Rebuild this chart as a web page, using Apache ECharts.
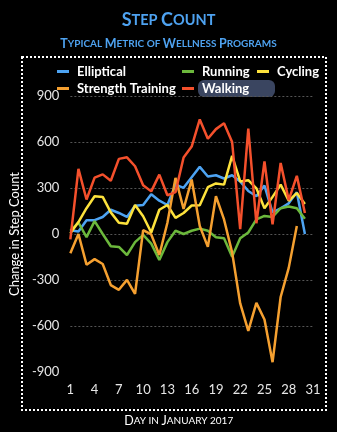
<!DOCTYPE html>
<html>
<head>
<meta charset="utf-8">
<script src="https://cdn.jsdelivr.net/npm/echarts@6/dist/echarts.min.js"></script>
<style>
html,body{margin:0;padding:0;background:#000;}
#c{width:337px;height:432px;}
</style>
</head>
<body>
<div id="c"></div>
<script>
const days = Array.from({length: 31}, (_, i) => String(i + 1));
const yTicks = [-900, -600, -300, 0, 300, 600, 900];
const elliptical = [25, 17, 90, 90, 111, 158, 137, 111, 185, 189, 259, 217, 189, 322, 301, 370, 438, 375, 383, 362, 383, 343, 280, 246, 316, 141, 168, 200, 273, 0];
const running = [20, 75, -20, 84, 0, -80, -84, -137, -53, -6, -63, -169, -53, 21, 0, 21, 35, 21, -21, -28, -148, -28, 10, 95, 118, 111, 168, 179, 168, 99];
const cycling = [5, 78, 168, 246, 242, 141, 73, 67, 189, 116, 10, 158, 189, 105, 137, 186, 187, 305, 330, 322, 509, 343, 351, 298, 168, 242, 322, 217, 267, 196];
const strength = [-126, 0, -200, -164, -196, -333, -364, -299, -390, 25, -3, -137, 73, 366, 163, 355, 52, -84, 246, 95, -120, -453, -632, -449, -558, -836, -411, -221, 52];
const walking = [-35, 425, 225, 368, 389, 347, 490, 500, 442, 318, 278, 387, 253, 273, 499, 570, 747, 621, 684, 722, 600, 32, 688, 70, 474, 63, 463, 221, 379, 137];

const seriesNames = ['Elliptical', 'Running', 'Cycling', 'Strength Training', 'Walking'];
const seriesData = [elliptical, running, cycling, strength, walking];
const colors = ['#4da3f2', '#6cb83c', '#fde23c', '#f5a030', '#f4502c'];

const FONT = 'Lato';
const legendBase = {
  orient: 'vertical',
  icon: 'rect',
  itemWidth: 12,
  itemHeight: 3,
  itemGap: 4,
  padding: 0,
  textStyle: {color: '#fff', fontSize: 13, fontFamily: FONT, fontWeight: 'bold', padding: [0, 0, 0, 3]}
};

const chart = echarts.init(document.getElementById('c'));
chart.setOption({
  backgroundColor: '#000',
  animation: false,
  color: colors,
  title: [{
    text: '{a|S}{b|TEP }{a|C}{b|OUNT}',
    left: 'center', top: 6,
    textStyle: {rich: {
      a: {fontSize: 18, fontWeight: 'bold', color: '#4ea2f0', fontFamily: FONT},
      b: {fontSize: 14.5, fontWeight: 'bold', color: '#4ea2f0', fontFamily: FONT}
    }}
  }, {
    text: '{a|T}{b|YPICAL }{a|M}{b|ETRIC OF }{a|W}{b|ELLNESS }{a|P}{b|ROGRAMS}',
    left: 'center', top: 32,
    textStyle: {rich: {
      a: {fontSize: 12.5, fontWeight: 'bold', color: '#4ea2f0', fontFamily: FONT},
      b: {fontSize: 10, fontWeight: 'bold', color: '#4ea2f0', fontFamily: FONT}
    }}
  }],
  graphic: [{
    type: 'rect', z: 0,
    shape: {x: 22, y: 57, width: 304, height: 353},
    style: {fill: 'none', stroke: '#fff', lineWidth: 2, lineDash: [2, 2]}
  }, {
    type: 'rect', z: 0,
    shape: {x: 198, y: 80, width: 77, height: 17, r: 6},
    style: {fill: '#3a4560'}
  }],
  legend: [
    Object.assign({}, legendBase, {left: 57, top: 65, data: ['Elliptical', 'Strength Training']}),
    Object.assign({}, legendBase, {left: 182, top: 65, data: ['Running', 'Walking']}),
    Object.assign({}, legendBase, {left: 257, top: 65, data: ['Cycling']})
  ],
  grid: {left: 63, right: 24, top: 96, bottom: 52, containLabel: false},
  xAxis: {
    type: 'category',
    data: days,
    boundaryGap: false,
    name: '{a|D}{b|AY IN }{a|J}{b|ANUARY 2017}',
    nameLocation: 'middle',
    nameGap: 42,
    nameTextStyle: {padding: [0, 26, 0, 0], rich: {
      a: {fontSize: 12.5, color: '#fff', fontFamily: FONT},
      b: {fontSize: 10, color: '#fff', fontFamily: FONT}
    }},
    axisLine: {show: false},
    axisTick: {show: false},
    axisLabel: {interval: 2, color: '#e6e6e6', fontSize: 13, fontFamily: FONT, margin: 11},
    splitLine: {show: false}
  },
  yAxis: {
    type: 'value',
    min: yTicks[0], max: yTicks[yTicks.length - 1], interval: 300,
    name: 'Change in Step Count',
    nameLocation: 'middle',
    nameGap: 47,
    nameTextStyle: {color: '#fff', fontSize: 13, fontFamily: FONT},
    axisLine: {show: false},
    axisTick: {show: false},
    axisLabel: {color: '#e6e6e6', fontSize: 13, fontFamily: FONT, margin: 11},
    splitLine: {show: true, showMinLine: false, lineStyle: {color: '#555', type: [2, 2], width: 1}}
  },
  series: seriesNames.map((n, i) => ({
    name: n,
    type: 'line',
    data: seriesData[i],
    symbol: 'none',
    lineStyle: {width: 2.5, color: colors[i]},
    itemStyle: {color: colors[i]},
    z: 2 + i
  }))
});
</script>
</body>
</html>
